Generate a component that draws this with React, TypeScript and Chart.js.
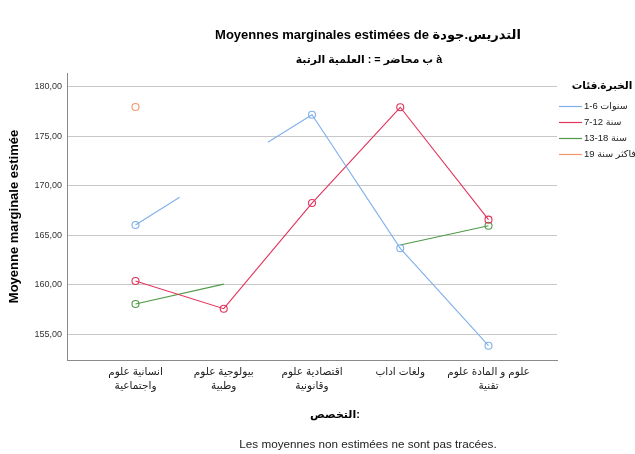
import React, { useEffect, useRef } from "react";
import { Chart, registerables } from "chart.js";

Chart.register(...registerables);

const FAMILY = '"Liberation Sans", Arial, "DejaVu Sans", sans-serif';

// Category labels (X axis: التخصص), one entry per line
const categories: string[][] = [
  ["علوم انسانية", "واجتماعية"],
  ["علوم بيولوجية", "وطبية"],
  ["علوم اقتصادية", "وقانونية"],
  ["اداب ولغات"],
  ["علوم المادة و علوم", "تقنية"],
];

// Series (legend: فئات.الخبرة)
const seriesNames = ["1-6 سنوات", "7-12 سنة", "13-18 سنة", "19 سنة فاكثر"];
const seriesColors = ["#7fb0ec", "#e2335c", "#4e9a47", "#f6956a"];

// Estimated means (null = not estimated / absent)
const est1 = [166.03, null, 177.17, 163.68, 153.84];
const est2 = [160.37, 157.58, 168.25, 177.92, 166.57];
const est3 = [158.05, null, null, null, 165.96];
const est4 = [177.95, null, null, null, null];
// Non-estimated means (only drawn as half-segments toward them)
const nonEst1 = [null, 171.62, null, null, null];
const nonEst2 = [null, null, null, null, null];
const nonEst3 = [null, null, 162.08, null, null];
const nonEst4 = [null, null, null, null, null];

const yTicks = [155, 160, 165, 170, 175, 180];

const titleText = "Moyennes marginales estimées de جودة.التدريس";
const subtitleText = "الرتبة العلمية : = محاضر ب à";
const yTitle = "Moyenne marginale estimée";
const xTitle = "التخصص:";
const legendTitle = "فئات.الخبرة";
const footnote = "Les moyennes non estimées ne sont pas tracées.";

const R = 3.5;

// Split text into atomic tokens (words, spaces, punctuation); SPSS lays them out left to right
const tokens = (s: string) => s.split(/(\s+|[.:=])/).filter((t) => t.length > 0);

function drawLtr(ctx: CanvasRenderingContext2D, text: string, x: number, y: number, align: "left" | "center") {
  const parts = tokens(text);
  const widths = parts.map((p) => ctx.measureText(p).width);
  const total = widths.reduce((a, b) => a + b, 0);
  let cx = align === "center" ? x - total / 2 : x;
  const prev = ctx.textAlign;
  ctx.textAlign = "left";
  parts.forEach((p, i) => {
    if (p.trim().length) ctx.fillText(p, cx, y);
    cx += widths[i];
  });
  ctx.textAlign = prev;
}

type P = { x: number; y: number | null; r: number };

function buildPoints(est: (number | null)[], nonEst: (number | null)[]): P[] {
  const present: { i: number; v: number; e: boolean }[] = [];
  est.forEach((v, i) => {
    if (v != null) present.push({ i, v, e: true });
    else if (nonEst[i] != null) present.push({ i, v: nonEst[i] as number, e: false });
  });
  const segs: [P, P][] = [];
  const covered = new Set<number>();
  for (let k = 0; k < present.length - 1; k++) {
    const p = present[k];
    const q = present[k + 1];
    const mid: P = { x: (p.i + q.i) / 2, y: (p.v + q.v) / 2, r: 0 };
    if (p.e && q.e) {
      segs.push([{ x: p.i, y: p.v, r: R }, { x: q.i, y: q.v, r: R }]);
      covered.add(p.i);
      covered.add(q.i);
    } else if (p.e && !q.e) {
      segs.push([{ x: p.i, y: p.v, r: R }, mid]);
      covered.add(p.i);
    } else if (!p.e && q.e) {
      segs.push([mid, { x: q.i, y: q.v, r: R }]);
      covered.add(q.i);
    }
  }
  const pts: P[] = [];
  for (const [a, b] of segs) {
    const last = pts[pts.length - 1];
    if (!last || last.x !== a.x || last.y !== a.y) {
      if (last) pts.push({ x: a.x, y: null, r: 0 });
      pts.push(a);
    }
    pts.push(b);
  }
  present.forEach((p) => {
    if (p.e && !covered.has(p.i)) {
      if (pts.length) pts.push({ x: p.i, y: null, r: 0 });
      pts.push({ x: p.i, y: p.v, r: R });
    }
  });
  return pts;
}

const estAll = [est1, est2, est3, est4];
const nonEstAll = [nonEst1, nonEst2, nonEst3, nonEst4];

const textPlugin = {
  id: "spssText",
  afterDraw(chart: any) {
    const ctx = chart.ctx as CanvasRenderingContext2D;
    const xs = chart.scales.x;
    ctx.save();
    ctx.textBaseline = "middle";
    // category labels, placed with the x scale
    ctx.fillStyle = "#222";
    ctx.font = `10.5px ${FAMILY}`;
    categories.forEach((lines, i) => {
      const px = xs.getPixelForValue(i);
      lines.forEach((line, j) => drawLtr(ctx, line, px, xs.top + 12 + j * 14, "center"));
    });
    ctx.fillStyle = "#000";
    ctx.font = `bold 13px ${FAMILY}`;
    drawLtr(ctx, titleText, 368, 35, "center");
    ctx.font = `bold 10.8px ${FAMILY}`;
    drawLtr(ctx, subtitleText, 369, 60, "center");
    ctx.font = `bold 11px ${FAMILY}`;
    drawLtr(ctx, xTitle, 335, 415, "center");
    ctx.fillStyle = "#222";
    ctx.font = `11.7px ${FAMILY}`;
    ctx.textAlign = "center";
    ctx.fillText(footnote, 368, 445);
    // legend
    ctx.fillStyle = "#000";
    ctx.font = `bold 10.5px ${FAMILY}`;
    drawLtr(ctx, legendTitle, 602, 86, "center");
    ctx.font = `9.5px ${FAMILY}`;
    chart.data.datasets.forEach((ds: any, i: number) => {
      const y = 106 + i * 16;
      ctx.strokeStyle = ds.borderColor;
      ctx.lineWidth = 1.2;
      ctx.beginPath();
      ctx.moveTo(559, Math.round(y) + 0.5);
      ctx.lineTo(582, Math.round(y) + 0.5);
      ctx.stroke();
      ctx.fillStyle = "#222";
      drawLtr(ctx, ds.label, 584, y, "left");
    });
    ctx.restore();
  },
};

export default function App() {
  const ref = useRef<HTMLCanvasElement | null>(null);
  useEffect(() => {
    if (!ref.current) return;
    const datasets = seriesNames.map((name, s) => {
      const pts = buildPoints(estAll[s], nonEstAll[s]);
      return {
        label: name,
        data: pts.map((p) => ({ x: p.x, y: p.y })),
        pointRadius: pts.map((p) => p.r),
        pointHoverRadius: pts.map((p) => p.r),
        pointBorderWidth: 1.1,
        pointBackgroundColor: "rgba(0,0,0,0)",
        pointBorderColor: seriesColors[s],
        borderColor: seriesColors[s],
        backgroundColor: seriesColors[s],
        borderWidth: 1.1,
        tension: 0,
        spanGaps: false,
        fill: false,
      };
    });
    const chart = new Chart(ref.current, {
      type: "line",
      data: { datasets } as any,
      plugins: [textPlugin],
      options: {
        animation: false,
        responsive: false,
        events: [],
        layout: { padding: { left: 0, top: 73, right: 78, bottom: 54 } },
        plugins: {
          legend: { display: false },
          title: { display: false },
          tooltip: { enabled: false },
        },
        scales: {
          x: {
            type: "linear",
            min: -0.776,
            max: 4.776,
            afterBuildTicks: (s: any) => {
              s.ticks = categories.map((_, i) => ({ value: i }));
            },
            afterFit: (s: any) => {
              s.height = 40;
            },
            grid: { display: false, drawTicks: false },
            border: { display: true, color: "#8a8a8a", width: 1 },
            ticks: { display: false },
          },
          y: {
            type: "linear",
            min: 152.4,
            max: 181.38,
            afterBuildTicks: (s: any) => {
              s.ticks = yTicks.map((v) => ({ value: v }));
            },
            afterFit: (s: any) => {
              s.width = 67;
            },
            grid: { color: "#c8c8c8", lineWidth: 1, drawTicks: false },
            border: { display: true, color: "#8a8a8a", width: 1 },
            ticks: {
              padding: 5,
              color: "#333",
              font: { family: FAMILY, size: 9 },
              callback: (v: any) => Number(v).toFixed(2).replace(".", ","),
            },
            title: {
              display: true,
              text: yTitle,
              color: "#000",
              font: { family: FAMILY, size: 13, weight: "bold" },
              padding: { top: 7, bottom: 0 },
            },
          },
        },
      } as any,
    });
    return () => chart.destroy();
  }, []);
  return (
    <div style={{ position: "absolute", left: 0, top: 0, width: 635, height: 454, background: "#fff" }}>
      <canvas ref={ref} width={635} height={454} style={{ display: "block" }} />
    </div>
  );
}
